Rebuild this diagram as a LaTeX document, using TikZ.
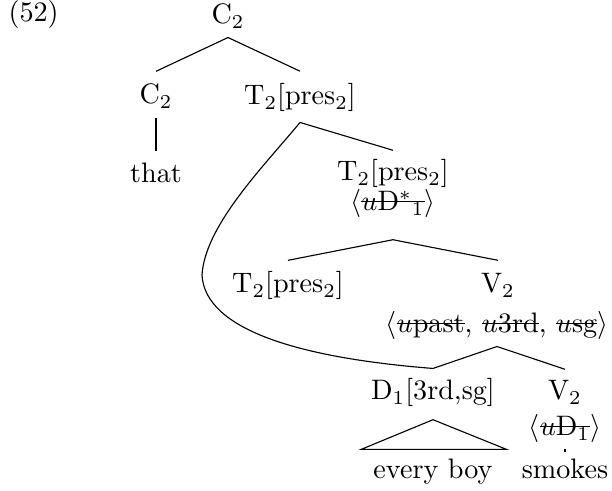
\documentclass[tikz,border=0pt]{standalone}
\newsavebox\strkbox
\newcommand\mystrike[1]{\sbox\strkbox{#1}\rlap{\rule[0.7ex]{\wd\strkbox}{0.4pt}}\usebox\strkbox}
\begin{document}
\begin{tikzpicture}[x=0.355pt,y=-0.355pt,
  lbl/.style={inner sep=0pt, anchor=base, text height=7.5pt, text depth=2.5pt, font=\fontsize{10}{12}\selectfont},
  edge/.style={line width=0.4pt}]
\useasboundingbox (0,0) rectangle (612,491);
\node[lbl, anchor=base west] (ex) at (8,22) {(52)};
\node[lbl] (c2top) at (228,24) {C$_2$};
\node[lbl] (c2l) at (156,104) {C$_2$};
\node[lbl] (that) at (156,183) {that};
\node[lbl] (t2a) at (300,105) {T$_2$[pres$_2$]};
\node[lbl] (t2b) at (393,181) {T$_2$[pres$_2$]};
\node[lbl] (t2bf) at (393,211) {$\langle$\mystrike{$u$D$^{*}{}_1$}$\rangle$};
\node[lbl] (t2c) at (288,293) {T$_2$[pres$_2$]};
\node[lbl] (v2a) at (498,293) {V$_2$};
\node[lbl] (v2af) at (497,333) {$\langle$\mystrike{$u$past}, \mystrike{$u$3rd}, \mystrike{$u$sg}$\rangle$};
\node[lbl] (d1) at (433,400) {D$_1$[3rd,sg]};
\node[lbl] (v2b) at (565,400) {V$_2$};
\node[lbl] (v2bf) at (565,436) {$\langle$\mystrike{$u$D$_1$}$\rangle$};
\node[lbl] (every) at (433,479) {every boy};
\node[lbl] (smokes) at (565,479) {smokes};
% edges
\draw[edge] ([yshift=-2.1pt]c2top.south) -- ([yshift=3.9pt]c2l.north);
\draw[edge] ([yshift=-2.1pt]c2top.south) -- ([yshift=4.3pt]t2a.north);
\draw[edge] ([yshift=-2.1pt]c2l.south) -- ([yshift=3.5pt]that.north);
\draw[edge] ([yshift=-3.5pt]t2a.south) -- ([yshift=3.2pt]t2b.north);
\draw[edge] ([yshift=-7.5pt]t2bf.south) -- ([yshift=3.9pt]t2c.north);
\draw[edge] ([yshift=-7.5pt]t2bf.south) -- ([yshift=3.9pt]v2a.north);
\draw[edge] ([yshift=-2.1pt]v2af.south) -- ([yshift=3.5pt]d1.north);
\draw[edge] ([yshift=-2.1pt]v2af.south) -- ([yshift=3.2pt]v2b.north);
\draw[edge] ([yshift=-4.3pt]d1.south) -- ([xshift=-4.2pt,yshift=2.8pt]every.north west)
  -- ([xshift=4.8pt,yshift=2.8pt]every.north east) -- cycle;
\draw[edge] ([yshift=-1.9pt]v2bf.south) -- ([yshift=1.8pt]smokes.north);
% movement curve
\coordinate (bend) at (202,275);
\draw[edge] ([yshift=-3.5pt]t2a.south) .. controls (265,165) and (205,225) .. (bend)
  .. controls (205,330) and (300,358) .. ([yshift=3.5pt]d1.north);
\end{tikzpicture}
\end{document}
